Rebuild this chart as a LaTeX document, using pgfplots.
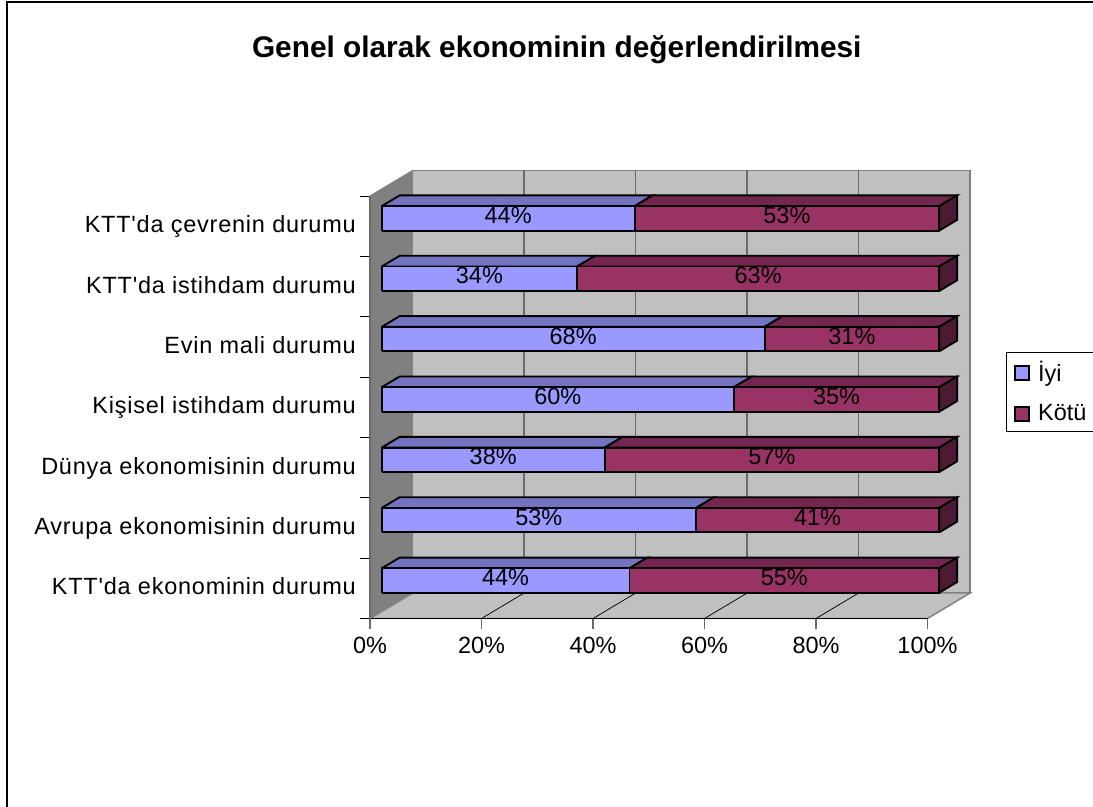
\documentclass[border=0pt]{standalone}
\usepackage{fontspec}
\setmainfont{Liberation Sans}[Ligatures=TeXOff]
\newfontfamily\labfont{Liberation Sans}[Ligatures=TeXOff,LetterSpace=3.3]
\usepackage{pgfplots}
\pgfplotsset{compat=1.18}
\definecolor{iyiF}{HTML}{9999FF}
\definecolor{iyiT}{HTML}{7373BF}
\definecolor{kotF}{HTML}{993366}
\definecolor{kotT}{HTML}{732650}
\definecolor{kotS}{HTML}{4D1A33}
\definecolor{wall}{HTML}{C0C0C0}
\definecolor{side}{HTML}{808080}
\definecolor{gridc}{HTML}{6A6A6A}
\newcommand{\chartfont}{\fontsize{17.6}{20}\selectfont}
% depth of the bars inside the chart box
\def\dA{0.274}\def\dB{0.694}
\tikzset{edge/.style={draw=black,line width=1.4pt,line join=miter},
 vlab/.style={font=\chartfont,text=black,inner sep=0pt,yshift=2.2pt}}
% row index, Iyi, Kotu: bars are drawn as shares of the row total
\newcommand{\barrow}[3]{%
 \pgfmathsetmacro\zA{#1+0.311}\pgfmathsetmacro\zB{#1+0.716}%
 \pgfmathsetmacro\xS{#2/(#2+#3)*100}%
 \pgfmathsetmacro\xL{\xS/2}\pgfmathsetmacro\xR{(\xS+100)/2}\pgfmathsetmacro\zM{(\zA+\zB)/2}%
 \addplot3[fill=iyiT,edge] coordinates {(0,\dA,\zB)(\xS,\dA,\zB)(\xS,\dB,\zB)(0,\dB,\zB)(0,\dA,\zB)};
 \addplot3[fill=kotT,edge] coordinates {(\xS,\dA,\zB)(100,\dA,\zB)(100,\dB,\zB)(\xS,\dB,\zB)(\xS,\dA,\zB)};
 \addplot3[fill=kotS,edge] coordinates {(100,\dA,\zA)(100,\dB,\zA)(100,\dB,\zB)(100,\dA,\zB)(100,\dA,\zA)};
 \addplot3[fill=iyiF,edge] coordinates {(0,\dA,\zA)(\xS,\dA,\zA)(\xS,\dA,\zB)(0,\dA,\zB)(0,\dA,\zA)};
 \addplot3[fill=kotF,edge] coordinates {(\xS,\dA,\zA)(100,\dA,\zA)(100,\dA,\zB)(\xS,\dA,\zB)(\xS,\dA,\zA)};
 \edef\tmp{\noexpand\node[vlab] at (axis cs:\xL,\dA,\zM) {#2\noexpand\%};
  \noexpand\node[vlab] at (axis cs:\xR,\dA,\zM) {#3\noexpand\%};}\tmp
}
\begin{document}
\begin{tikzpicture}
\clip (0,0) rectangle (819.75pt,-605.25pt);
\fill[white] (0,0) rectangle (819.75pt,-605.25pt);
\draw[black,line width=1.5pt] (5.5pt,-605.25pt) -- (5.5pt,-1.6pt) -- (819.75pt,-1.6pt);
\begin{axis}[
 at={(277.5pt,-463.875pt)},anchor=origin,
 x={(4.18125pt,0pt)},y={(32.025pt,19.125pt)},z={(0pt,45.27pt)},
 xmin=0,xmax=100,ymin=0,ymax=1,zmin=0,zmax=7,
 hide axis,clip=false]
 % walls and floor
 \addplot3[fill=side,draw=side,line width=0.8pt] coordinates {(0,0,0)(0,1,0)(0,1,7)(0,0,7)(0,0,0)};
 \addplot3[fill=wall,draw=side,line width=1.1pt] coordinates {(0,1,0)(100,1,0)(100,1,7)(0,1,7)(0,1,0)};
 \addplot3[fill=wall,draw=side,line width=1.1pt] coordinates {(0,0,0)(100,0,0)(100,1,0)(0,1,0)(0,0,0)};
 \pgfplotsinvokeforeach{20,40,60,80}{
  \addplot3[draw=gridc,line width=1.1pt] coordinates {(#1,1,0)(#1,1,7)};
  \addplot3[draw=black,line width=0.55pt] coordinates {(#1,0,0)(#1,1,0)};
 }
 \barrow{6}{44}{53}
 \barrow{5}{34}{63}
 \barrow{4}{68}{31}
 \barrow{3}{60}{35}
 \barrow{2}{38}{57}
 \barrow{1}{53}{41}
 \barrow{0}{44}{55}
\end{axis}
\begin{axis}[
 at={(277.5pt,-463.875pt)},anchor=south west,
 scale only axis,width=418.125pt,height=316.875pt,
 xmin=0,xmax=100,ymin=0,ymax=7,
 axis x line*=bottom,axis y line*=left,
 x axis line style={black,line width=0.9pt},
 y axis line style={draw=gridc,line width=0.9pt},
 tick align=outside,major tick length=7.5pt,
 xtick={0,20,...,100},
 xticklabels={0\%,20\%,40\%,60\%,80\%,100\%},
 x tick style={draw=gridc,line width=0.9pt},
 y tick style={draw=black,line width=0.75pt},
 ytick={0,...,7},yticklabels={},
 extra y ticks={0.53,1.53,2.53,3.53,4.53,5.53,6.53},
 extra y tick labels={KTT'da ekonominin durumu,Avrupa ekonomisinin durumu,Dünya ekonomisinin durumu,Kişisel istihdam durumu,Evin mali durumu,KTT'da istihdam durumu,KTT'da çevrenin durumu},
 extra y tick style={major tick length=0pt,yticklabel style={inner sep=0pt,xshift=-10.5pt,anchor=east,text height=12.6pt,text depth=0pt,font=\chartfont\labfont}},
 xticklabel style={font=\chartfont,inner sep=0pt,yshift=-6.5pt},
 title={\fontsize{22.35}{26}\selectfont\bfseries Genel olarak ekonominin değerlendirilmesi},
 title style={at={(axis description cs:0.335,1.327)},anchor=center,inner sep=0pt},
 legend style={at={(axis cs:114.03,4.41)},anchor=north west,draw=black,line width=0.75pt,
  font=\chartfont,inner xsep=6pt,inner ysep=4.5pt,row sep=11.5pt,
  cells={anchor=west,text width=60pt}},
 legend cell align=left,
 legend image code/.code={\draw[#1,line width=1.1pt] (0pt,-5.5pt) rectangle (10.5pt,5pt);\path (15pt,0pt);},
]
 \addlegendimage{fill=iyiF,draw=black}
 \addlegendentry{İyi}
 \addlegendimage{fill=kotF,draw=black}
 \addlegendentry{Kötü}
\end{axis}
\end{tikzpicture}
\end{document}
